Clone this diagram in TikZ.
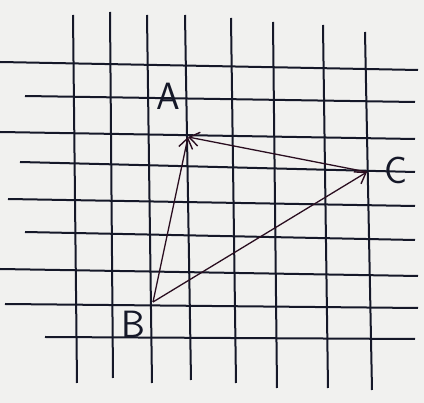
\documentclass[tikz,border=0pt]{standalone}
\usetikzlibrary{arrows.meta}
\usepackage{fontspec}
\setmainfont{DejaVu Sans}
\definecolor{paper}{HTML}{F1F1EF}
\definecolor{ink}{HTML}{151828}
\definecolor{pen}{HTML}{2A0E20}
\begin{document}
\begin{tikzpicture}[x=1pt,y=-1pt,
  gridline/.style={ink,line width=2pt},
  vec/.style={pen,line width=1.3pt,-{Straight Barb[length=10pt,width=14pt,line width=1.4pt]}},
  lbl/.style={font=\fontsize{38}{40}\selectfont\sffamily,text=ink,inner sep=0pt}]
\fill[paper] (0,0) rectangle (424,403);
\useasboundingbox (0,0) rectangle (424,403);
% vertical lines
\draw[gridline] (73,15) -- (77,383);
\draw[gridline] (110,12) -- (113,378);
\draw[gridline] (147,15) -- (152,383);
\draw[gridline] (185,15) -- (191,380);
\draw[gridline] (231,18) -- (236,383);
\draw[gridline] (273,22) -- (277,388);
\draw[gridline] (323,25) -- (328,388);
\draw[gridline] (365,32) -- (372,390);
% horizontal lines
\draw[gridline] (0,62) -- (418,70);
\draw[gridline] (25,96) -- (415,102);
\draw[gridline] (0,132) -- (415,139);
\draw[gridline] (20,162) -- (415,172);
\draw[gridline] (8,199) -- (415,206);
\draw[gridline] (25,232) -- (415,240);
\draw[gridline] (0,269) -- (418,276);
\draw[gridline] (5,304) -- (418,308);
\draw[gridline] (45,337) -- (415,339);
% points
\coordinate (A) at (188,137);
\coordinate (B) at (153,302);
\coordinate (C) at (367,172);
\draw[vec] (B) -- (A);
\draw[vec] (B) -- (C);
\draw[vec] (C) -- (A);
\node[lbl] (la) at (168,96) {A};
\node[lbl] (lc) at (396,170) {C};
\node[lbl] (lb) at (133,324) {B};
\end{tikzpicture}
\end{document}
